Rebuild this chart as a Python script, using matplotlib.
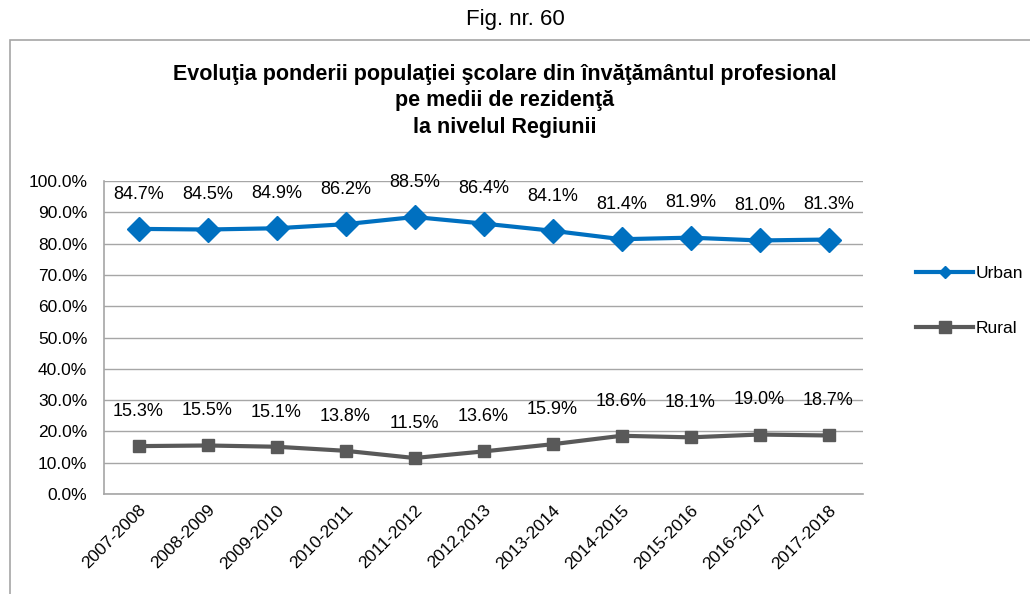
import matplotlib.pyplot as plt
from matplotlib.patches import Rectangle
from matplotlib.lines import Line2D

plt.rcParams['font.family'] = ['Liberation Sans Narrow', 'Liberation Sans', 'DejaVu Sans']

years = ['2007-2008', '2008-2009', '2009-2010', '2010-2011', '2011-2012', '2012,2013',
         '2013-2014', '2014-2015', '2015-2016', '2016-2017', '2017-2018']
urban = [84.7, 84.5, 84.9, 86.2, 88.5, 86.4, 84.1, 81.4, 81.9, 81.0, 81.3]
rural = [15.3, 15.5, 15.1, 13.8, 11.5, 13.6, 15.9, 18.6, 18.1, 19.0, 18.7]

fig = plt.figure(figsize=(10.30, 5.94), dpi=100)
ax = fig.add_axes([104 / 1030, 1 - 494 / 594, (863 - 104) / 1030, (494 - 181) / 594])

# outer chart frame
fig.patches.append(Rectangle((10 / 1030, -0.1), 1.2, 1 - 40 / 594 + 0.1, transform=fig.transFigure,
                             fill=False, edgecolor='#a6a6a6', linewidth=1.2))

x = list(range(len(years)))
ax.plot(x, urban, color='#0070C0', linewidth=3, marker='D', markersize=12)
ax.plot(x, rural, color='#595959', linewidth=3, marker='s', markersize=9)

for xi, u, r in zip(x, urban, rural):
    ax.annotate(f'{u:.1f}%', (xi, u), xytext=(0, 25), textcoords='offset points',
                ha='center', va='center', fontsize=13)
    ax.annotate(f'{r:.1f}%', (xi, r), xytext=(0, 25), textcoords='offset points',
                ha='center', va='center', fontsize=13)

ax.set_xlim(-0.5, len(years) - 0.5)
ax.set_ylim(0, 100)
ax.set_yticks(range(0, 101, 10))
ax.set_yticklabels([f'{v:.1f}%' for v in range(0, 101, 10)], fontsize=12.5)
ax.set_xticks(x)
ax.set_xticklabels(years, rotation=45, ha='right', rotation_mode='anchor', fontsize=12.5)
ax.tick_params(axis='y', length=0, pad=12)
ax.tick_params(axis='x', length=0, pad=6)
ax.grid(axis='y', color='#a6a6a6', linewidth=1)
ax.set_axisbelow(True)
for s in ['top', 'right']:
    ax.spines[s].set_visible(False)
for s in ['left', 'bottom']:
    ax.spines[s].set_color('#a6a6a6')
    ax.spines[s].set_linewidth(1.2)

handles = [Line2D([], [], color='#0070C0', linewidth=3, marker='D', markersize=6),
           Line2D([], [], color='#595959', linewidth=3, marker='s', markersize=8)]
fig.legend(handles, ['Urban', 'Rural'], loc='center left',
           bbox_to_anchor=(916 / 1030, 1 - 301 / 594), frameon=False, fontsize=12.5,
           handlelength=3.3, handletextpad=0.15, labelspacing=2.3,
           borderpad=0, borderaxespad=0)

fig.text(0.5, 1 - 20 / 594, 'Fig. nr. 60', ha='center', va='center', fontsize=16)
fig.text(0.49, 1 - 101 / 594,
         'Evoluţia ponderii populaţiei şcolare din învăţământul profesional\n'
         'pe medii de rezidenţă\nla nivelul Regiunii',
         ha='center', va='center', fontsize=15.5, fontweight='bold', linespacing=1.35)

fig.savefig('out.png', dpi=100)
